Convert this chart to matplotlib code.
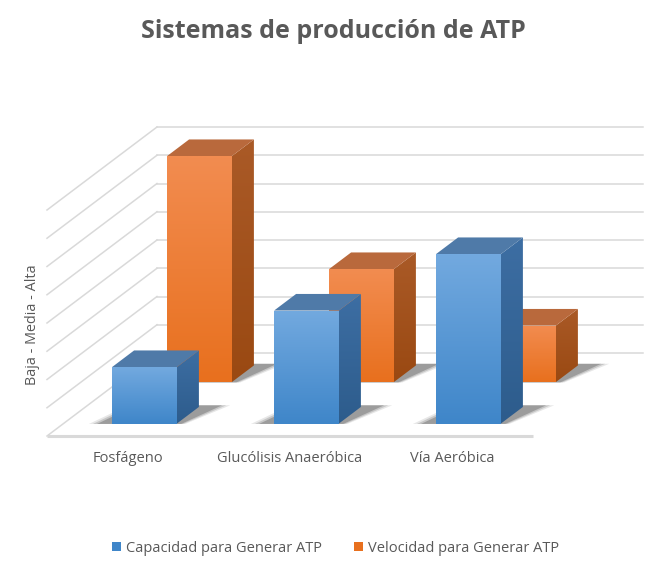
import numpy as np
import matplotlib
matplotlib.use("Agg")
import matplotlib.pyplot as plt
from matplotlib.patches import Polygon, Patch
from matplotlib.colors import to_rgb

# ---------------- data ----------------
title = "Sistemas de producción de ATP"
categories = ["Fosfágeno", "Glucólisis Anaeróbica", "Vía Aeróbica"]
series_names = ["Capacidad para Generar ATP", "Velocidad para Generar ATP"]
capacidad = [2, 4, 6]
velocidad = [8, 4, 2]
y_label = "Baja - Media - Alta"
y_max = 8
y_step = 1

# ---------------- style ----------------
FONT = ["Open Sans", "DejaVu Sans"]
TXT = "#595959"
GRID = "#d9d9d9"
# (front top, front bottom, side top, side bottom, top face)
COLORS = [
    ("#72a9df", "#3f86c9", "#3d6ea3", "#2d5c8c", "#4f7aa8"),
    ("#f28c50", "#e8701e", "#aa5a27", "#9a4912", "#b9693c"),
]

W, H = 667, 577
fig = plt.figure(figsize=(W / 100, H / 100), dpi=100)
ax = fig.add_axes([0, 0, 1, 1])

# oblique projection of the chart box (category, value, depth) -> canvas
X0, Y0 = 47, 436          # front-left floor corner
CAT_W = 162               # width of one category slot
UNIT_H = 28.25            # height of one value unit
DDX, DDY = 110, -83       # full depth offset (front -> back)
BAR_W = 0.40              # bar width as fraction of a category slot
BAR_D = 0.40              # bar depth as fraction of a series row


def P(x, y, d):
    return (X0 + x * CAT_W + d * DDX, Y0 - y * UNIT_H + d * DDY)


def grad_fill(poly_pts, c_top, c_bot, zorder):
    poly = Polygon(poly_pts, closed=True, facecolor="none", edgecolor="none")
    ax.add_patch(poly)
    xs = [p[0] for p in poly_pts]
    ys = [p[1] for p in poly_pts]
    t = np.linspace(0, 1, 64)[:, None]
    a, b = np.array(to_rgb(c_top)), np.array(to_rgb(c_bot))
    img = (a[None, None, :] * (1 - t[..., None]) + b[None, None, :] * t[..., None])
    img = np.repeat(img, 2, axis=1)
    im = ax.imshow(img, extent=(min(xs), max(xs), max(ys), min(ys)),
                   origin="upper", aspect="auto", interpolation="bilinear",
                   zorder=zorder)
    im.set_clip_path(poly)


# ---------------- walls / gridlines ----------------
n_cat = len(categories)
levels = np.arange(0, y_max + y_step / 2, y_step)
for v in levels:
    bx0, by0 = P(0, v, 1)
    bx1, by1 = P(n_cat, v, 1)
    ax.plot([bx0, bx1], [by0, by1], color=GRID, lw=1.1, zorder=1)
    fx, fy = P(0, v, 0)
    ax.plot([fx, bx0], [fy, by0], color=GRID, lw=1.1, zorder=1)
fx0, fy0 = P(0, 0, 0)
fx1, fy1 = P(n_cat, 0, 0)
ax.plot([fx0, fx1], [fy0, fy1], color=GRID, lw=2.2, zorder=1, solid_capstyle="butt")

# ---------------- bars ----------------
series_vals = [capacidad, velocidad]
n_ser = len(series_vals)
for s in reversed(range(n_ser)):
    vals = series_vals[s]
    row = 1.0 / n_ser
    d0 = s * row + row * (1 - BAR_D) / 2
    d1 = d0 + row * BAR_D
    ftop, fbot, stop, sbot, tcol = COLORS[s]
    zb = 10 + (n_ser - s) * 10
    for i, v in enumerate(vals):
        x0 = i + (1 - BAR_W) / 2
        x1 = x0 + BAR_W
        # soft shadow on the floor
        for k, (grow, alpha) in enumerate([(0.07, 0.10), (0.045, 0.16), (0.02, 0.24)]):
            sh = [P(x0 - 0.07 - grow, 0, d0 - 0.005), P(x1 + 0.02 + grow * 0.5, 0, d0 - 0.005),
                  P(x1 + 0.11 + grow, 0, d1 + 0.02), P(x0 + 0.02 - grow, 0, d1 + 0.02)]
            ax.add_patch(Polygon(sh, closed=True, facecolor="#1a1a1a", edgecolor="none",
                                 alpha=alpha, zorder=zb - 1))
        front = [P(x0, 0, d0), P(x1, 0, d0), P(x1, v, d0), P(x0, v, d0)]
        side = [P(x1, 0, d0), P(x1, 0, d1), P(x1, v, d1), P(x1, v, d0)]
        top = [P(x0, v, d0), P(x1, v, d0), P(x1, v, d1), P(x0, v, d1)]
        grad_fill(side, stop, sbot, zb)
        ax.add_patch(Polygon(top, closed=True, facecolor=tcol, edgecolor="none", zorder=zb + 1))
        grad_fill(front, ftop, fbot, zb + 2)

# ---------------- texts ----------------
for i, c in enumerate(categories):
    cx, cy = P(i + 0.5, 0, 0)
    ax.text(cx, cy + 22, c, ha="center", va="center", fontsize=10.5,
            color=TXT, family=FONT)

ax.text(33, 325, y_label, rotation=90, ha="center", va="center", fontsize=10.4,
        color=TXT, family=FONT)

fig.text(0.5, 1 - 32 / H, title, ha="center", va="center", fontsize=18,
         fontweight="bold", color=TXT, family=FONT)

handles = [Patch(facecolor=COLORS[k][1], edgecolor="none") for k in range(n_ser)]
leg = ax.legend(handles, series_names, loc="center", bbox_to_anchor=(0.503, 1 - 548 / H),
                bbox_transform=fig.transFigure, ncol=2, frameon=False,
                handlelength=0.6, handleheight=0.6, handletextpad=0.35,
                columnspacing=2.2, prop={"family": FONT, "size": 10.5})
for t in leg.get_texts():
    t.set_color(TXT)

ax.set_xlim(0, W)
ax.set_ylim(H, 0)
ax.axis("off")
fig.savefig("out.png", dpi=100)
